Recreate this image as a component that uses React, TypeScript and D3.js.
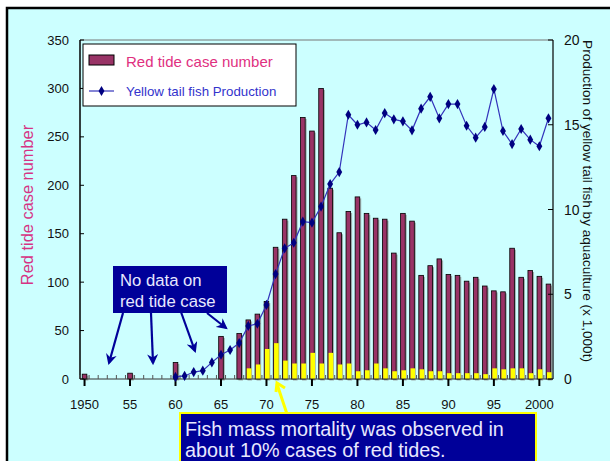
import React from "react";
import * as d3 from "d3";

const years: number[] = d3.range(1950, 2002);
const redTide: number[] = [
  5, 0, 0, 0, 0, 6, 0, 0, 0, 0,
  17, 0, 0, 0, 0, 44, 0, 47, 61, 67,
  80, 136, 165, 210, 270, 256, 300, 197, 151, 173,
  188, 171, 166, 165, 130, 171, 163, 107, 117, 124,
  108, 107, 101, 105, 96, 91, 90, 135, 105, 112,
  106, 98,
];
const fishKill: number[] = [
  0, 0, 0, 0, 0, 0, 0, 0, 0, 0,
  0, 0, 0, 0, 0, 0, 0, 0, 11, 15,
  31, 37, 19, 16, 16, 27, 16, 27, 15, 16,
  8, 9, 16, 11, 8, 9, 11, 10, 8, 8,
  6, 6, 6, 6, 5, 11, 10, 11, 11, 6,
  10, 7,
];
const prodYears: number[] = d3.range(1960, 2002);
const production: number[] = [
  0.12, 0.18, 0.41, 0.49, 0.98, 1.43, 1.71, 2.12, 3.13, 3.26,
  4.37, 6.19, 7.71, 8.04, 9.28, 9.22, 10.17, 11.5, 12.21, 15.59,
  15.0, 15.14, 14.69, 15.69, 15.32, 15.2, 14.67, 15.95, 16.65, 15.38,
  16.22, 16.22, 14.94, 14.24, 14.87, 17.11, 14.63, 13.86, 14.75, 14.12,
  13.73, 15.38,
];
const leftTicks: number[] = [0, 50, 100, 150, 200, 250, 300, 350];
const rightTicks: number[] = [0, 5, 10, 15, 20];
const xLabelYears: number[] = [1950, 1955, 1960, 1965, 1970, 1975, 1980, 1985, 1990, 1995, 2000];
const xLabelText: string[] = ["1950", "55", "60", "65", "70", "75", "80", "85", "90", "95", "2000"];

const FONT = "'Liberation Sans', Arial, sans-serif";
const L = 80, R = 553, T = 40, B = 379;

export default function App() {
  const x = d3.scaleBand<number>().domain(years).range([L, R]).padding(0);
  const yL = d3.scaleLinear().domain([0, 350]).range([B, T]);
  const yR = d3.scaleLinear().domain([0, 20]).range([B, T]);
  const bw = 4.6;
  const cx = (yr: number) => (x(yr) as number) + x.bandwidth() / 2;
  const line = d3
    .line<number>()
    .x((_, i) => cx(prodYears[i]))
    .y((d) => yR(d));
  const diamond = d3.symbol().type(d3.symbolDiamond).size(30)() as string;

  const navyArrows = [
    [123, 313, 109, 363],
    [151, 313, 153, 363],
    [181, 312, 195, 351],
    [207, 313, 226, 328],
  ];

  return (
    <svg width={610} height={461} style={{ position: "absolute", left: 0, top: 0 }}>
      <defs>
        <marker id="navyHead" viewBox="0 0 10 10" refX="8" refY="5" markerWidth="5" markerHeight="5" orient="auto">
          <path d="M0,0 L10,5 L0,10 L3,5 Z" fill="#000099" />
        </marker>
      </defs>
      <rect x={0} y={0} width={610} height={461} fill="#ffffff" />
      <rect x={7} y={8} width={610} height={470} fill="#CCFFFF" stroke="#000" strokeWidth={2.5} />

      {/* plot frame */}
      <line x1={L} y1={T} x2={R} y2={T} stroke="#777" strokeWidth={1} />
      <line x1={R} y1={T} x2={R} y2={B} stroke="#000" strokeWidth={1.2} />
      <line x1={L} y1={T} x2={L} y2={B} stroke="#000" strokeWidth={1.5} />

      {/* bars */}
      {years.map((yr, i) =>
        redTide[i] > 0 ? (
          <g key={"r" + yr}>
            <rect x={cx(yr) - bw / 2 + 1.5} y={yL(redTide[i]) + 1.5} width={bw} height={B - yL(redTide[i])} fill="#8a8a8a" opacity={0.7} />
            <rect x={cx(yr) - bw / 2} y={yL(redTide[i])} width={bw} height={B - yL(redTide[i])} fill="#993366" stroke="#000" strokeWidth={0.8} />
          </g>
        ) : null
      )}
      {years.map((yr, i) =>
        fishKill[i] > 0 ? (
          <rect key={"y" + yr} x={cx(yr) - bw / 2 + 0.8} y={yL(fishKill[i])} width={bw} height={B - yL(fishKill[i])} fill="#FFFF00" />
        ) : null
      )}

      {/* x axis */}
      <line x1={L} y1={B} x2={R} y2={B} stroke="#333" strokeWidth={1.2} />
      {years.map((yr) => (
        <line key={"m" + yr} x1={x(yr) as number} x2={x(yr) as number} y1={B} y2={B - 4} stroke="#555" strokeWidth={1} />
      ))}
      {xLabelYears.map((yr, i) => (
        <g key={"xl" + yr}>
          <line x1={cx(yr)} x2={cx(yr)} y1={B} y2={B + 7} stroke="#000" strokeWidth={2} />
          <text x={cx(yr)} y={409} textAnchor="middle" fontFamily={FONT} fontSize={13} fill="#111">
            {xLabelText[i]}
          </text>
        </g>
      ))}

      {/* left axis */}
      {leftTicks.map((t) => (
        <g key={"lt" + t}>
          <line x1={L} x2={L + 4} y1={yL(t)} y2={yL(t)} stroke="#000" />
          <text x={69} y={yL(t) + 4.5} textAnchor="end" fontFamily={FONT} fontSize={13} fill="#111">
            {t}
          </text>
        </g>
      ))}
      {/* right axis */}
      {rightTicks.map((t) => (
        <g key={"rt" + t}>
          <line x1={R} x2={R - 5} y1={yR(t)} y2={yR(t)} stroke="#000" />
          <text x={564} y={yR(t) + 5} textAnchor="start" fontFamily={FONT} fontSize={14} fill="#111">
            {t}
          </text>
        </g>
      ))}

      {/* line series */}
      <path d={line(production) as string} fill="none" stroke="#3333BB" strokeWidth={1.2} />
      {production.map((v, i) => (
        <path key={"p" + i} d={diamond} transform={`translate(${cx(prodYears[i])},${yR(v)})`} fill="#000080" />
      ))}

      {/* axis titles */}
      <text transform="translate(33,205) rotate(-90)" textAnchor="middle" fontFamily={FONT} fontSize={16.4} fill="#D63384">
        Red tide case number
      </text>
      <text transform="translate(583,201) rotate(90)" textAnchor="middle" fontFamily={FONT} fontSize={13.6} fill="#111">
        Production of yellow tail fish by aquaculture (x 1,000t)
      </text>

      {/* legend */}
      <rect x={83} y={44} width={213} height={62} fill="#fff" stroke="#000" strokeWidth={1} />
      <rect x={89} y={55} width={25} height={10} fill="#993366" stroke="#000" strokeWidth={1} />
      <text x={126} y={67} fontFamily={FONT} fontSize={15} fill="#E0307F">
        Red tide case number
      </text>
      <line x1={89} x2={114} y1={91} y2={91} stroke="#3333BB" strokeWidth={1.2} />
      <path d={diamond} transform="translate(101.5,91)" fill="#000080" />
      <text x={126} y={96} fontFamily={FONT} fontSize={13.3} fill="#3333CC">
        Yellow tail fish Production
      </text>

      {/* no data annotation */}
      <rect x={113} y={266} width={114} height={47} fill="#000099" />
      <text x={120} y={286} fontFamily={FONT} fontSize={16.7} fill="#E8E8FF">
        No data on
      </text>
      <text x={120} y={307} fontFamily={FONT} fontSize={16.7} fill="#E8E8FF">
        red tide case
      </text>
      {navyArrows.map((a, i) => (
        <line key={"na" + i} x1={a[0]} y1={a[1]} x2={a[2]} y2={a[3]} stroke="#000099" strokeWidth={2.2} markerEnd="url(#navyHead)" />
      ))}

      {/* yellow arrow */}
      <line x1={287} y1={414} x2={277} y2={384} stroke="#FFFF00" strokeWidth={3} />
      <polyline points="276,392 277,383 285,388" fill="none" stroke="#FFFF00" strokeWidth={3} />

      {/* bottom box */}
      <rect x={180} y={413} width={356} height={60} fill="#000099" stroke="#FFFF00" strokeWidth={2} />
      <text x={185} y={436} fontFamily={FONT} fontSize={19.8} fill="#E8E8FF">
        Fish mass mortality was observed in
      </text>
      <text x={185} y={457} fontFamily={FONT} fontSize={19.8} fill="#E8E8FF">
        about 10% cases of red tides.
      </text>
    </svg>
  );
}
